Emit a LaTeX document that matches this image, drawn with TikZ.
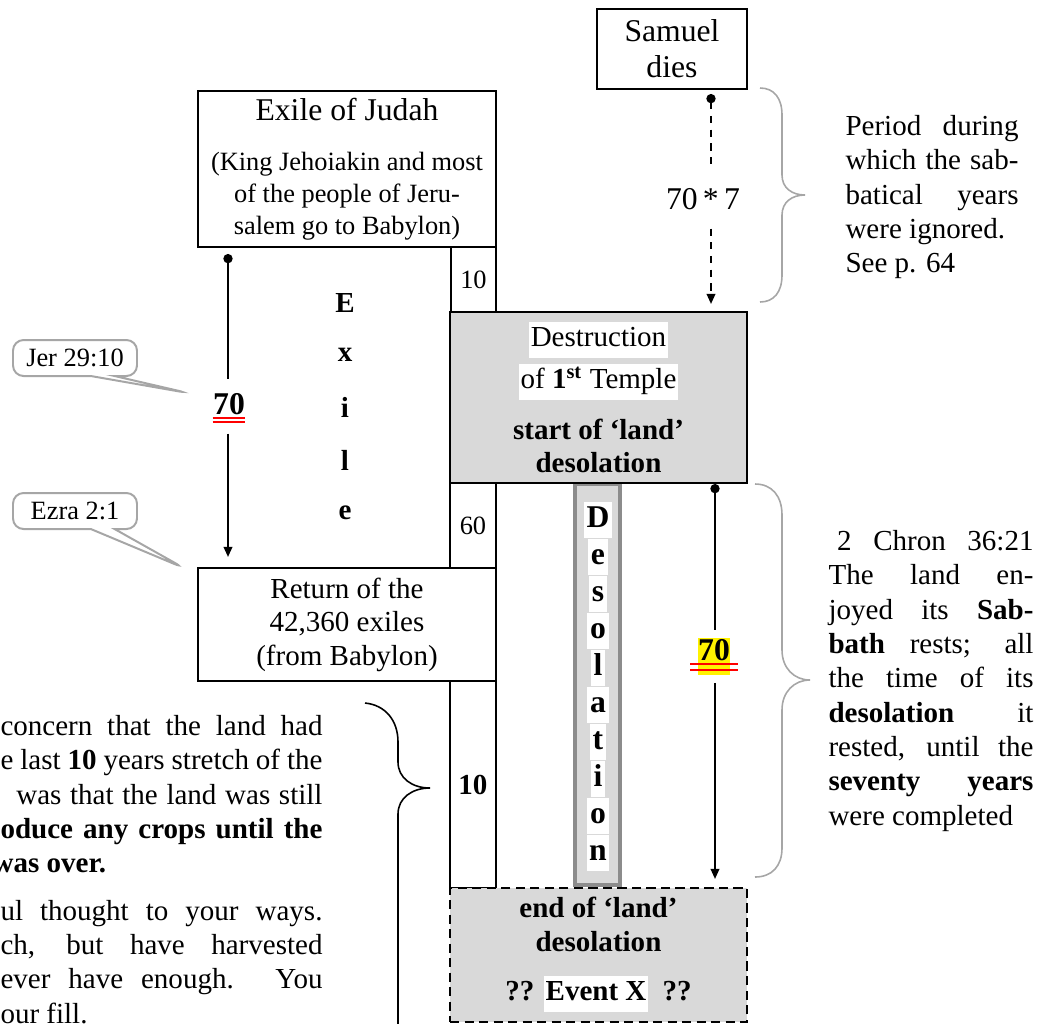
\documentclass[tikz,border=0pt]{standalone}
\usepackage{fontspec}
\setmainfont{Liberation Serif}
\usetikzlibrary{arrows.meta,shapes.callouts}
\definecolor{boxgray}{RGB}{217,217,217}
\definecolor{colgray}{RGB}{140,140,140}
\definecolor{notegray}{RGB}{166,166,166}
\newcommand{\pxu}{0.379pt}
\setlength{\fboxsep}{0.6pt}

\begin{document}
\begin{tikzpicture}[x=0.379pt, y=-0.379pt, font=\fontsize{11}{12.7}\selectfont,
    box/.style={draw, line width=0.75pt, anchor=north west, inner sep=0pt, align=center},
    prose/.style={anchor=north west, inner sep=0pt, align=justify, font=\fontsize{11}{13}\selectfont},
    span/.style={line width=0.75pt, {Circle[length=3.5pt]}-},
    spanend/.style={line width=0.75pt, -{Triangle[length=3.8pt,width=3.2pt]}},
    brace/.style={notegray, line width=0.6pt},
    note/.style={rectangle callout, draw=notegray, line width=0.75pt, fill=white, rounded corners=4pt,
        callout pointer width=9pt, minimum width=124*\pxu, minimum height=36*\pxu, inner sep=0pt,
        font=\fontsize{10}{12}\selectfont}]
    \useasboundingbox (0,0) rectangle (1050,1023);

    % desolation column
    \node[draw=colgray, line width=1.5pt, fill=boxgray, minimum width=45*\pxu, minimum height=401*\pxu, inner sep=0pt] (desol) at (597.5,684.5) {};
    \foreach \ch [count=\i] in {D,e,s,o,l,a,t,i,o,n}
        \node[fill=white, inner xsep=1pt, inner ysep=0pt, text height=10pt, text depth=4pt, font=\fontsize{12}{14}\selectfont] (dl\i) at (598, 483+37*\i) {\textbf{\ch}};

    % time line boxes
    \node[box, minimum width=298*\pxu, minimum height=156*\pxu, font=\fontsize{10}{12}\selectfont] (exile) at (197,90) {{\fontsize{12}{14}\selectfont Exile of Judah}\\[7pt](King Jehoiakin and most\\of the people of Jeru-\\salem go to Babylon)};
    \node[box, minimum width=45*\pxu, minimum height=65*\pxu, font=\fontsize{10}{12}\selectfont] (tenA) at (450,246) {10};
    \node[box, fill=boxgray, minimum width=297*\pxu, minimum height=171*\pxu] (destr) at (449,311) {\colorbox{white}{\strut Destruction}\\[1pt]\colorbox{white}{\strut of \textbf{1\textsuperscript{st}} Temple}\\[6.5pt]\textbf{start of ‘land’}\\\textbf{desolation}};
    \node[box, minimum width=46*\pxu, minimum height=85*\pxu, font=\fontsize{10}{12}\selectfont] (sixty) at (449,482) {60};
    \node[box, minimum width=298*\pxu, minimum height=113*\pxu] (retn) at (197,567) {Return of the\\42,360 exiles\\(from Babylon)};
    \node[box, minimum width=46*\pxu, minimum height=207*\pxu] (tenB) at (449,680) {\textbf{10}};
    \node[box, dash pattern=on 3.5pt off 2pt, fill=boxgray, minimum width=297*\pxu, minimum height=134*\pxu] (endbox) at (449,887) {\textbf{end of ‘land’}\\\textbf{desolation}\\[6pt]\textbf{?? \colorbox{white}{\strut Event X}\ \ ??}};
    \node[box, minimum width=150*\pxu, minimum height=80*\pxu, font=\fontsize{12}{13.6}\selectfont] (samuel) at (596,8) {Samuel\\dies};

    % exile letters
    \foreach \ch [count=\i] in {E,x,i,l,e}
        \node (ex\i) at (345, 250+52.5*\i) {\textbf{\ch}};

    % spans of years
    \node[inner sep=0pt, minimum height=58*\pxu, font=\fontsize{12}{14}\selectfont] (sevenfold) at (703,199) {70\,*\,7};
    \coordinate (samA) at (711,94);
    \coordinate (samB) at (711,304);
    \draw[span, dash pattern=on 2.7pt off 2.5pt] (samA) -- (sevenfold.north -| samA);
    \draw[spanend, dash pattern=on 2.7pt off 2.5pt] (sevenfold.south -| samA) -- (samB);

    \node[inner sep=0pt, minimum height=53*\pxu, font=\fontsize{12}{14}\selectfont] (seventyL) at (229,406.5) {\underline{\textbf{70}}};
    \draw[red, line width=0.6pt] ([yshift=-1.4pt]seventyL.base west) -- ([yshift=-1.4pt]seventyL.base east);
    \draw[red, line width=0.6pt] ([yshift=-2.9pt]seventyL.base west) -- ([yshift=-2.9pt]seventyL.base east);
    \coordinate (exA) at (228,254);
    \coordinate (retA) at (228,557);
    \draw[span] (exA) -- (seventyL.north -| exA);
    \draw[spanend] (seventyL.south -| exA) -- (retA);

    \node[fill=yellow, inner sep=0pt, text height=8.4pt, text depth=5.6pt, outer sep=3pt, font=\fontsize{12}{14}\selectfont] (seventyR) at (714,656.5) {\underline{\textbf{70}}};
    \draw[red, line width=0.6pt] ([yshift=-1.5pt]seventyR.base west) -- ([yshift=-1.5pt]seventyR.base east);
    \draw[red, line width=0.6pt] ([yshift=-3.6pt]seventyR.base west) -- ([yshift=-3.6pt]seventyR.base east);
    \coordinate (desA) at (715,484);
    \coordinate (desB) at (715,879);
    \draw[span] (desA) -- (seventyR.north -| desA);
    \draw[spanend] (seventyR.south -| desA) -- (desB);

    % references
    \node[note, callout absolute pointer={(188,393)}] (jer) at (75,358) {Jer 29:10};
    \node[note, callout absolute pointer={(184,568)}] (ezra) at (75,511) {Ezra 2:1};

    % braces
    \draw[brace] (760,88) .. controls (774,88) and (782,98) .. (782,115) -- (782,175) .. controls (782,188) and (792,195) .. (805,195) .. controls (792,195) and (782,202) .. (782,215) -- (782,275) .. controls (782,292) and (774,302) .. (760,302);
    \draw[brace] (755,484) .. controls (772,484) and (782,496) .. (782,515) -- (782,650) .. controls (782,668) and (794,680) .. (810,680) .. controls (794,680) and (782,692) .. (782,710) -- (782,848) .. controls (782,866) and (772,877) .. (755,877);
    \draw[line width=0.6pt] (365,703) .. controls (385,705) and (398,720) .. (398,742) -- (398,762) .. controls (398,778) and (412,788) .. (430,788) .. controls (412,788) and (398,798) .. (398,814) -- (398,1030);

    % notes
    \node[prose, text width=173*\pxu] (period) at (845,115) {Period during\linebreak which the sab-\linebreak batical years\linebreak were ignored.\\See p. 64};
    \node[prose, text width=205*\pxu] (chron) at (828,530) {\hspace*{0.3em}2 Chron 36:21\linebreak The land en-\linebreak joyed its \textbf{Sab-}\linebreak \textbf{bath} rests; all\linebreak the time of its\linebreak \textbf{desolation} it\linebreak rested, until the\linebreak \textbf{seventy years}\linebreak were completed};
    \node[prose, text width=322*\pxu] (concern) at (0,715) {concern that the land had\linebreak e last \textbf{10} years stretch of the\linebreak \hspace*{6pt}was that the land was still\linebreak \textbf{oduce any crops until the}\linebreak \hspace*{-3pt}\textbf{was over.}\\[5pt]ul thought to your ways.\linebreak ch, but have harvested\linebreak ever have enough. You\linebreak our fill.};
\end{tikzpicture}
\end{document}
